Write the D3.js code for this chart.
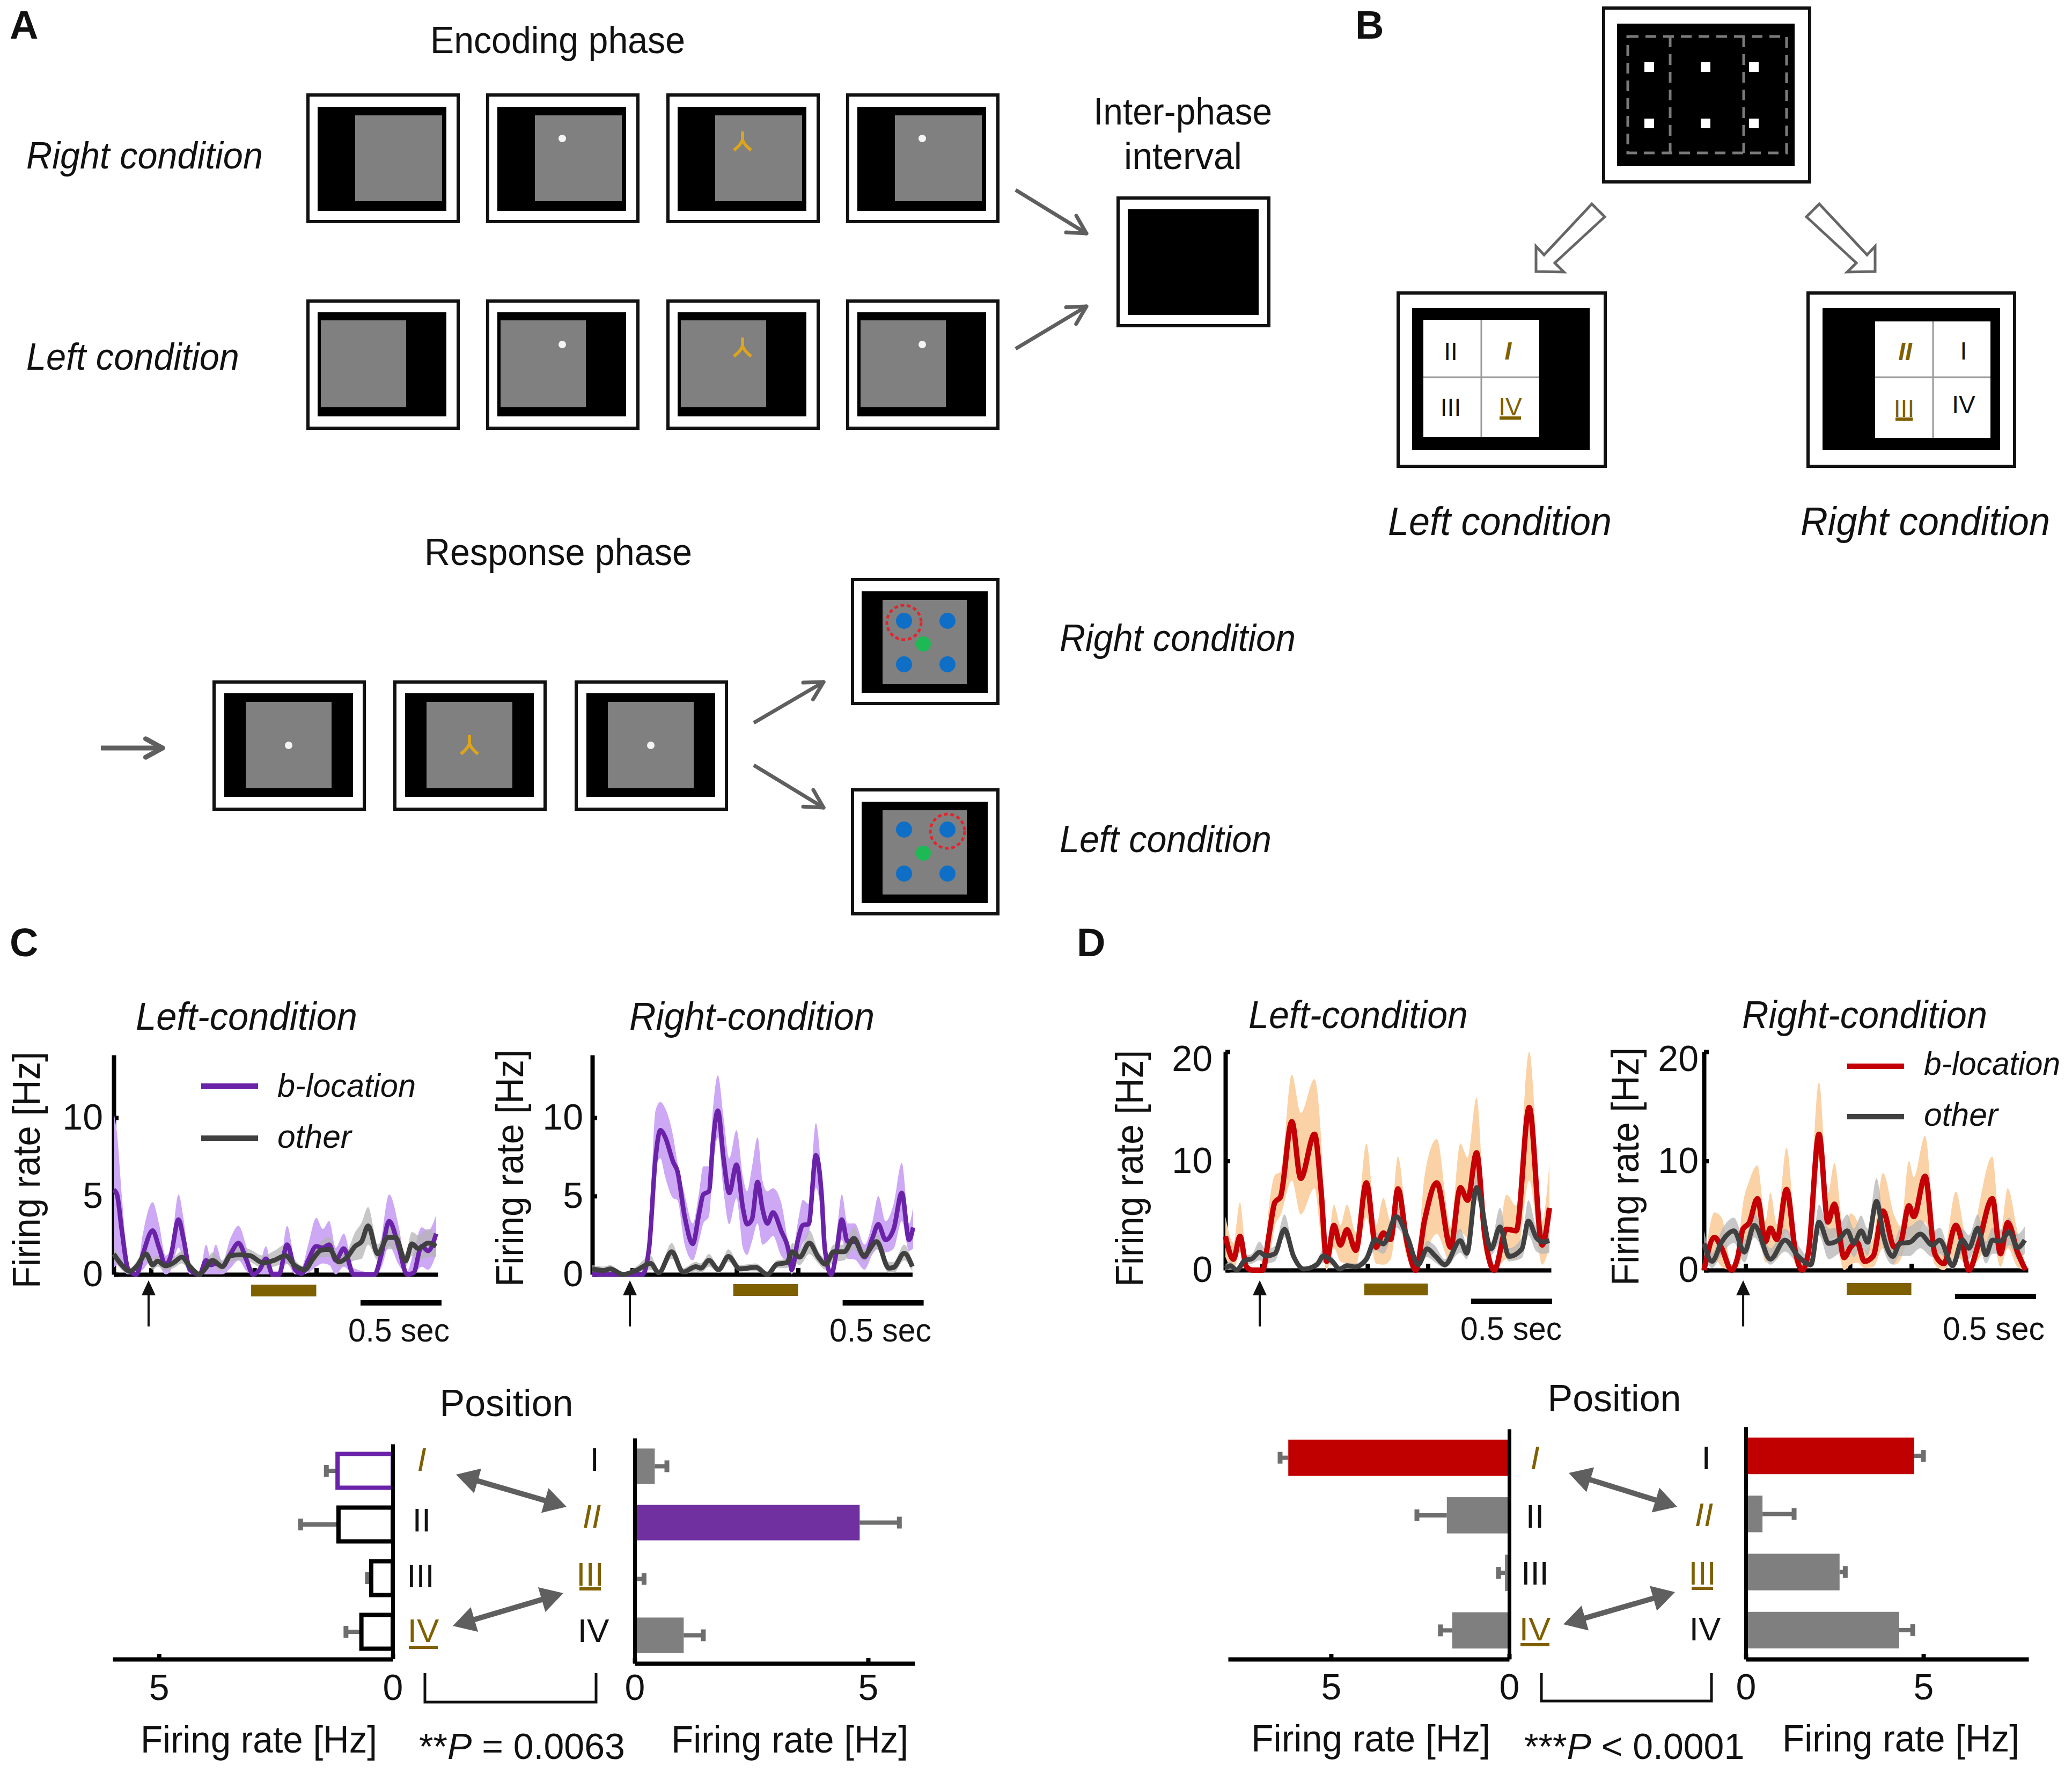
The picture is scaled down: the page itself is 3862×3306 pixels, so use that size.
<!DOCTYPE html>
<html>
<head>
<meta charset="utf-8">
<script src="https://cdn.jsdelivr.net/npm/d3@7/dist/d3.min.js"></script>
<style>
  html, body { margin: 0; background: #fff; }
  text { font-family: "Liberation Sans", Arial, sans-serif; fill: #111; }
</style>
</head>
<body>
<svg width="3862" height="3306"></svg>
<script>
// firing rate traces, one row per knot: [time s, mean Hz, band low, band high]
const cLeftB = [[0,5.4,.4,10.3],[.02,5.1,.6,9],[.05,2.8,.3,5],[.09,.3,0,.7],[.14,0,0,.1],[.18,1.3,.3,2.6],[.24,2.8,1,4.6],[.28,1.7,.6,3.2],[.32,.6,0,1.2],[.35,1.1,.2,1.6],[.40,3.5,1.7,5.1],[.43,2.3,1,3.6],[.47,.3,0,.6],[.53,0,0,.1],[.57,.9,0,1.9],[.60,.6,0,1],[.63,.7,0,1.9],[.67,.5,0,.8],[.72,1.3,.4,2.3],[.77,2,.9,3.1],[.82,.9,.2,1.7],[.86,0,0,.1],[.90,.3,0,.6],[.94,1,0,1.8],[.98,0,0,.2],[1.02,0,0,.2],[1.07,1.9,.7,3.1],[1.12,.3,0,.8],[1.16,.05,0,.5],[1.20,.9,.1,1.9],[1.25,1.8,.5,3.6],[1.29,1.7,.7,2.9],[1.33,1.9,.6,3.4],[1.37,.9,0,1.7],[1.42,1.65,.5,2.6],[1.48,0,0,.4],[1.61,0,0,.1],[1.65,1.2,.4,2.2],[1.70,3.4,1.8,5.1],[1.76,1.7,.6,3],[1.81,0,0,.2],[1.85,.1,0,1.4],[1.90,1.8,.5,3],[1.94,1.5,.3,2.8],[1.99,2.6,1.3,3.8]];
const cLeftOther = [[0,1.3,.9,1.7],[.05,.6,.3,.9],[.10,.2,0,.4],[.14,.5,.2,.8],[.20,1.3,.9,1.7],[.24,.6,.3,1],[.27,.85,.5,1.2],[.32,.55,.25,.9],[.37,.75,.4,1.1],[.42,1.1,.7,1.5],[.47,.5,.2,.8],[.53,0,0,.2],[.56,.3,.1,.6],[.61,.9,.5,1.4],[.67,.5,.2,.9],[.72,1.2,.8,1.7],[.78,1.25,.9,1.8],[.84,1.2,.8,1.6],[.92,.75,.4,1.2],[.99,.9,.5,1.5],[1.06,1.2,.7,1.9],[1.12,.55,.2,.9],[1.18,.3,.1,.5],[1.23,1,.6,1.4],[1.28,1.55,1.1,2.1],[1.33,1.6,1.1,2.4],[1.39,.8,.5,1.2],[1.44,1.1,.7,1.5],[1.49,1.8,.9,2.7],[1.53,2.1,1,3.3],[1.57,3.1,1.9,4.3],[1.63,1.3,.9,1.9],[1.69,2.35,1.6,3.2],[1.74,2.35,1.6,3],[1.80,.85,.5,1.3],[1.84,1.95,1.2,2.7],[1.88,1.65,.9,2.5],[1.94,2,1.1,2.9],[1.99,1.8,1.1,2.5]];

const cRightB = [[0,0,0,.1],[.31,0,0,.1],[.35,1.65,1,2.4],[.39,7.4,6.8,10.45],[.42,9.2,7.4,11],[.45,8.75,6.2,10.6],[.50,7.15,4.85,8.75],[.525,6.6,4.75,7.15],[.57,3.7,1.9,5.1],[.62,1.95,.9,3.25],[.66,3.95,2.2,5.3],[.685,5.1,3.25,6.9],[.72,5.3,3.7,6.9],[.745,8.5,6.8,10.6],[.775,10.45,8.75,12.7],[.81,7.4,5.3,10],[.845,5.2,3.2,7.4],[.89,7,4.85,9.2],[.93,4.2,1.65,6.2],[.955,3.2,1.25,5.3],[.985,3.5,2.1,6.8],[1.02,5.9,3.25,8.75],[1.05,4.2,1.9,6],[1.08,3.25,2.1,5.3],[1.115,3.95,2.45,5.5],[1.165,2.8,1.2,4.6],[1.215,1.3,.6,1.65],[1.23,.3,0,1],[1.27,2.25,1.2,3.4],[1.30,3.15,2,4.75],[1.335,3.2,2.6,4.5],[1.38,7.6,5.5,9.65],[1.415,5.1,3.5,6.2],[1.435,1.65,.5,3],[1.475,0,0,.3],[1.51,1.65,.8,2.8],[1.54,3.5,2.2,5.1],[1.575,2.1,1,3.25],[1.62,2.1,.95,3.25],[1.68,1.1,.3,1.9],[1.73,2.35,1.3,3.4],[1.765,3.2,1.65,5],[1.81,2.2,1.4,3.4],[1.86,2.9,1.65,4.5],[1.91,5.2,3.4,7.1],[1.955,2.2,1.5,3.25],[1.98,3,1.65,4.3]];
const cRightOther = [[0,.35,.1,.6],[.07,.25,.1,.5],[.11,.35,.1,.6],[.19,0,0,.1],[.27,.25,.1,.5],[.36,.7,.3,1.2],[.41,.1,0,.3],[.49,1.45,1,2],[.56,.15,0,.4],[.64,.5,.2,.8],[.67,.4,.1,.7],[.72,.9,.5,1.3],[.78,.3,.1,.5],[.84,1.15,.8,1.6],[.91,.35,.2,.6],[1.01,.45,.2,.7],[1.08,0,0,.2],[1.14,.65,.4,.9],[1.2,.75,.4,1],[1.235,1.45,.8,2],[1.28,1.1,.6,1.6],[1.34,2,1.3,2.8],[1.395,1.1,.7,1.5],[1.44,.65,.3,1],[1.49,1.45,.8,1.9],[1.555,1.45,.9,1.9],[1.615,2.3,1.6,3],[1.675,1.2,.8,1.6],[1.755,2.1,1.6,2.6],[1.83,.4,.1,.8],[1.86,.45,.1,.8],[1.925,1.35,.9,1.9],[1.975,.5,.2,.8]];

const dLeftB = [[0,3.1,1.2,4.9],[.05,1,0,2.5],[.09,3.1,1.6,6.2],[.13,.3,0,1],[.17,0,0,.1],[.23,0,0,.1],[.27,3.3,1,6],[.305,6.2,4,8.7],[.34,6.7,5,9],[.41,13.6,8.2,17.9],[.465,8.4,5.1,14.4],[.55,12.45,7.5,17.5],[.59,7.4,3,12.3],[.625,.8,0,1.5],[.67,4.1,2,6],[.71,2.3,.8,4.1],[.75,3.7,.6,6],[.805,1.8,.5,3.5],[.87,8,4.8,11.6],[.93,2.1,.6,4.1],[.975,3.4,.5,6.6],[1.02,2.8,1,4.5],[1.065,7.45,4.75,10.4],[1.12,2.6,1.2,4],[1.175,0,0,.3],[1.23,4.6,1.5,8.7],[1.305,8,3.3,12],[1.39,2.1,.6,4],[1.45,7.55,3.5,11.6],[1.495,6.4,3,10.3],[1.55,10.75,8,15.8],[1.60,3.3,1.5,5],[1.66,0,0,.3],[1.735,3.75,1,6.9],[1.795,3.6,1,5.9],[1.875,14.9,8.2,20],[1.955,2.3,.5,4.5],[2,5.7,2.1,9.8]];
const dLeftOther = [[0,.15,0,.5],[.03,.4,0,.8],[.07,0,0,.2],[.12,.9,.5,1.3],[.165,1.05,.6,1.5],[.21,1.65,.9,2.6],[.25,1.3,.6,1.9],[.305,1.5,.8,2.2],[.365,3.75,3,5.1],[.42,1.3,.9,1.7],[.485,.1,0,.3],[.565,.5,.2,.9],[.605,1.3,.7,1.9],[.66,.8,.4,1.2],[.705,.1,0,.3],[.75,.4,.1,.7],[.80,.3,.1,.6],[.87,1,.6,1.5],[.925,2.8,1.8,3.5],[.975,2.4,1.5,3],[1.055,4.9,3.9,5.9],[1.125,2.95,2.3,3.6],[1.19,.5,.2,.9],[1.245,1.95,1.2,2.7],[1.295,1.3,.7,2.2],[1.355,.5,.2,1],[1.45,2.7,1.6,3.8],[1.49,1.55,1,2.4],[1.55,7.55,6.4,8.7],[1.64,1.95,1.4,2.6],[1.695,3.95,2.5,5.7],[1.75,1.25,.8,2],[1.83,1.95,1.1,3],[1.87,4.5,3.2,6.4],[1.92,2.95,1.7,4],[1.96,2.6,1.5,3.7],[2,2.7,1.6,3.8]];

const dRightB = [[0,0,0,.2],[.065,3,1,5.3],[.11,2,.3,4.8],[.17,0,0,.5],[.21,1.3,.3,2.2],[.24,3.75,1.5,6],[.28,4.35,2.5,8.2],[.33,6.55,3.5,9.6],[.38,2.6,.7,4.5],[.41,3.85,1,7.1],[.45,2.8,1,4.2],[.51,7.4,3.5,11.2],[.565,1.65,.5,3],[.605,0,0,.5],[.645,1.65,.5,3.5],[.71,12.45,10,17.2],[.765,4.4,2.8,7],[.805,6.05,3,9.8],[.865,1.15,0,3.5],[.905,2.1,.5,5.2],[.945,2.55,.7,4.5],[.99,.8,.2,1.8],[1.045,1.3,.3,3],[1.105,5.4,2,8.9],[1.175,2.1,.5,5],[1.215,2.6,1,4],[1.265,5.9,3,10],[1.295,4.9,2.5,8.5],[1.365,8.6,4.4,12.3],[1.425,1.5,.5,3.5],[1.48,.6,0,1.8],[1.555,4.1,1.3,7.2],[1.595,2.45,.8,4.5],[1.635,0,0,.5],[1.695,2.45,1,5.7],[1.78,6.55,3,10.4],[1.83,1.5,.3,3.5],[1.875,4.35,2,7.5],[1.935,1.65,.3,3.5],[1.985,0,0,.5]];
const dRightOther = [[0,2.45,1.3,3.6],[.05,.8,.2,1.6],[.11,2.6,1.5,3.7],[.185,3.6,2.5,4.8],[.25,1.65,.7,2.8],[.31,4.1,3,5.2],[.41,1,.5,2],[.5,2.75,1.7,3.8],[.58,1.3,.6,2.3],[.66,.5,.2,1],[.71,4.4,3.2,6],[.77,2.45,1,3.8],[.83,2.75,1.5,4],[.885,3.6,2,5.1],[.925,2.45,1.2,3.8],[.97,3.6,2.2,5],[1.01,2.55,1.3,3.8],[1.065,6.3,5.2,8.4],[1.11,3,1.8,4.5],[1.165,1.25,.5,2.3],[1.21,2.45,1.3,3.8],[1.27,2.55,1.3,4],[1.335,3.3,2,4.6],[1.41,2.3,1.2,3.5],[1.455,2.75,1.5,3.9],[1.535,.4,.1,1],[1.595,2.75,1.5,3.8],[1.635,2,1,3.2],[1.69,3.85,2.6,5.1],[1.74,1.4,.6,2.6],[1.78,2.75,1.5,3.9],[1.83,2.65,1.5,3.7],[1.885,3.5,2.3,4.8],[1.935,2.05,1,3.3],[1.98,2.75,1.5,4]];

// bar charts
const positions = ["I", "II", "III", "IV"];
const cLeftBars = [1.18, 1.16, 0.46, 0.67];
const cLeftErr = [1.42, 1.97, 0.54, 1.0];
const cRightBars = [0.43, 4.82, 0.05, 1.05];
const cRightErr = [0.69, 5.67, 0.2, 1.47];
const dLeftBars = [6.2, 1.75, 0.12, 1.6];
const dLeftErr = [6.43, 2.59, 0.3, 1.93];
const dRightBars = [4.74, 0.47, 2.64, 4.32];
const dRightErr = [5.0, 1.36, 2.8, 4.7];

const svg = d3.select("svg");
const BROWN = "#7f6000";
const GOLD = "#dca51c";
const DARK = "#404040";
const ARROW = "#5f5f5f";

function label(txt, x, y, size, o = {}) {
  const t = svg.append("text")
    .attr("x", x).attr("y", y)
    .attr("font-size", size)
    .attr("font-style", o.italic ? "italic" : "normal")
    .attr("font-weight", o.bold ? "bold" : "normal")
    .attr("text-anchor", o.anchor || "start")
    .text(txt);
  if (o.fill) t.style("fill", o.fill);
  if (o.width) t.attr("textLength", o.width).attr("lengthAdjust", "spacingAndGlyphs");
  if (o.rotate) t.attr("transform", `rotate(-90 ${x} ${y})`);
  return t;
}

function rect(x0, y0, x1, y1, fill, extra = {}) {
  const r = svg.append("rect")
    .attr("x", x0).attr("y", y0)
    .attr("width", x1 - x0).attr("height", y1 - y0)
    .attr("fill", fill);
  Object.entries(extra).forEach(([k, v]) => r.attr(k, v));
  return r;
}

function line(x1, y1, x2, y2, color, w, extra = {}) {
  const l = svg.append("line")
    .attr("x1", x1).attr("y1", y1).attr("x2", x2).attr("y2", y2)
    .attr("stroke", color).attr("stroke-width", w);
  Object.entries(extra).forEach(([k, v]) => l.attr(k, v));
  return l;
}

// outer white screen with the black display inside
function screen(x0, y0, x1, y1, bx0, by0, bx1, by1) {
  rect(x0, y0, x1, y1, "#fff", { stroke: "#111", "stroke-width": 6 });
  rect(bx0, by0, bx1, by1, "#000");
}

function whiteDot(x, y) {
  svg.append("circle").attr("cx", x).attr("cy", y).attr("r", 7).attr("fill", "#f4f4f4");
}

function fork(x, y) {
  svg.append("path")
    .attr("d", `M${x},${y - 18}L${x},${y - 2}Q${x - 4},${y + 8} ${x - 16},${y + 17}M${x},${y - 2}Q${x + 4},${y + 8} ${x + 16},${y + 17}`)
    .attr("fill", "none").attr("stroke", GOLD).attr("stroke-width", 6);
}

// plain arrow with an open head
function arrow(x1, y1, x2, y2, w = 7, head = 38) {
  const a = Math.atan2(y2 - y1, x2 - x1);
  line(x1, y1, x2, y2, ARROW, w);
  [-0.5, 0.5].forEach(d => {
    line(x2, y2, x2 - head * Math.cos(a + d), y2 - head * Math.sin(a + d), ARROW, w, { "stroke-linecap": "round" });
  });
}

// thick double arrow with solid heads
function doubleArrow(x1, y1, x2, y2) {
  const a = Math.atan2(y2 - y1, x2 - x1);
  const h = 42, s = 24;
  const ux = Math.cos(a), uy = Math.sin(a);
  line(x1 + ux * 30, y1 + uy * 30, x2 - ux * 30, y2 - uy * 30, ARROW, 10);
  [[x1, y1, 1], [x2, y2, -1]].forEach(([x, y, d]) => {
    const bx = x + d * ux * h, by = y + d * uy * h;
    svg.append("polygon")
      .attr("points", [[x, y], [bx - uy * s, by + ux * s], [bx + uy * s, by - ux * s]].join(" "))
      .attr("fill", ARROW);
  });
}

function roman(txt, x, y, size, o = {}) {
  const brown = o.italic || o.under;
  label(txt, x, y + size * 0.36, size, {
    anchor: "middle", italic: o.italic, bold: o.bold,
    fill: brown ? BROWN : "#111"
  });
  if (o.under) line(x - o.under, o.uy, x + o.under, o.uy, BROWN, 6);
}

/* ---------- panel letters ---------- */
label("A", 18, 72, 74, { bold: true });
label("B", 2526, 72, 74, { bold: true });
label("C", 18, 1782, 74, { bold: true });
label("D", 2007, 1782, 74, { bold: true });

/* ---------- panel A ---------- */
label("Encoding phase", 802, 99, 70, { width: 475 });
label("Right condition", 49, 314, 70, { italic: true, width: 441 });
label("Left condition", 49, 689, 70, { italic: true, width: 397 });
label("Inter-phase", 2038, 232, 70, { width: 333 });
label("interval", 2095, 315, 70, { width: 220 });

[574, 909, 1245, 1580].forEach((x, i) => {
  screen(x, 177, x + 280, 413, x + 18, 199, x + 258, 393);
  rect(x + 88, 215, x + 250, 375, "#808080");
  screen(x, 561, x + 280, 798, x + 18, 582, x + 258, 776);
  rect(x + 24, 597, x + 183, 759, "#808080");
  if (i === 1 || i === 3) { whiteDot(x + 139, 258); whiteDot(x + 139, 642); }
  if (i === 2) { fork(x + 139, 263); fork(x + 139, 647); }
});

screen(2084, 369, 2365, 607, 2102, 390, 2346, 587);
arrow(1893, 354, 2025, 435);
arrow(1893, 650, 2025, 571);

label("Response phase", 791, 1053, 70, { width: 499 });
arrow(188, 1394, 303, 1394, 9, 36);
[399, 736, 1074].forEach((x, i) => {
  screen(x, 1271, x + 280, 1508, x + 19, 1292, x + 259, 1485);
  rect(x + 59, 1308, x + 219, 1469, "#808080");
  if (i === 1) fork(x + 139, 1388); else whiteDot(x + 139, 1389);
});
arrow(1405, 1347, 1535, 1271);
arrow(1405, 1426, 1535, 1505);

[[1080, 1157, 1238, 1200, 1685], [1472, 1546, 1628, 1590, 1766]].forEach(([top, d0, d1, g, ring]) => {
  screen(1589, top, 1860, top + 231, 1606, top + 22, 1841, top + 211);
  rect(1645, top + 38, 1802, top + 195, "#808080");
  [1685, 1766].forEach(x => [d0, d1].forEach(y => {
    svg.append("circle").attr("cx", x).attr("cy", y).attr("r", 15).attr("fill", "#0f6fc6");
  }));
  svg.append("circle").attr("cx", 1721).attr("cy", g).attr("r", 14).attr("fill", "#1db954");
  svg.append("circle").attr("cx", ring).attr("cy", d0 + 3).attr("r", 32)
    .attr("fill", "none").attr("stroke", "#e0262c").attr("stroke-width", 5).attr("stroke-dasharray", "7 5");
});
label("Right condition", 1975, 1213, 70, { italic: true, width: 440 });
label("Left condition", 1975, 1588, 70, { italic: true, width: 395 });

/* ---------- panel B ---------- */
screen(2989, 15, 3373, 339, 3014, 44, 3345, 309);
const dash = { "stroke-dasharray": "20 13" };
rect(3034, 68, 3330, 285, "none", { stroke: "#7a7a7a", "stroke-width": 5, "stroke-dasharray": "20 13" });
line(3113, 68, 3113, 285, "#7a7a7a", 5, dash);
line(3250, 68, 3250, 285, "#7a7a7a", 5, dash);
[3074, 3179, 3269].forEach(x => [125, 230].forEach(y => {
  rect(x - 9, y - 9, x + 9, y + 9, "#fff");
}));

const blockArrow = [[2967, 380], [2991, 404], [2898, 490], [2915, 507], [2863, 506], [2863, 459], [2878, 475]];
[d => d, d => [6358 - d[0], d[1]]].forEach(f => {
  svg.append("polygon")
    .attr("points", blockArrow.map(f).join(" "))
    .attr("fill", "#fff").attr("stroke", "#666").attr("stroke-width", 5);
});

screen(2606, 546, 2992, 869, 2632, 574, 2963, 839);
rect(2653, 596, 2869, 814, "#fff");
line(2761, 596, 2761, 814, "#999", 3);
line(2653, 703, 2869, 703, "#999", 3);
roman("II", 2704, 654, 46);
roman("I", 2811, 653, 46, { italic: true, bold: true });
roman("III", 2704, 758, 46);
roman("IV", 2815, 757, 46, { under: 20, uy: 779 });

screen(3370, 546, 3755, 869, 3397, 574, 3728, 839);
rect(3495, 599, 3710, 816, "#fff");
line(3603, 599, 3603, 816, "#999", 3);
line(3495, 703, 3710, 703, "#999", 3);
roman("II", 3551, 654, 46, { italic: true, bold: true });
roman("I", 3660, 653, 46);
roman("III", 3549, 760, 46, { under: 16, uy: 781 });
roman("IV", 3660, 753, 46);

label("Left condition", 2587, 997, 74, { italic: true, width: 417 });
label("Right condition", 3356, 997, 74, { italic: true, width: 465 });

/* ---------- firing rate panels ---------- */
const PX_PER_SEC = 302;
const tracePanels = [
  { b: cLeftB, other: cLeftOther, x0: 212, T: 2, y0: 2375, yTop: 1966, yMax: 14, ticks: [0, 5, 10],
    line: "#6a23a8", band: "#cda8f5", pad: 20, stim: [0.848, 1.25], cue: 0.215, scale: 1.523, scaleY: 2428,
    title: "Left-condition", tx: 253, tw: 413, ty: 1919, yl: 74, yw: 441, yb: 2401, sec: 649, secW: 189, secY: 2500, barY: 2394 },
  { b: cRightB, other: cRightOther, x0: 1104, T: 1.975, y0: 2375, yTop: 1966, yMax: 14, ticks: [0, 5, 10],
    line: "#6a23a8", band: "#cda8f5", pad: 17, stim: [0.87, 1.27], cue: 0.232, scale: 1.545, scaleY: 2428,
    title: "Right-condition", tx: 1173, tw: 457, ty: 1919, yl: 975, yw: 442, yb: 2398, sec: 1546, secW: 190, secY: 2500, barY: 2393 },
  { b: dLeftB, other: dLeftOther, x0: 2284, T: 2.01, y0: 2367, yTop: 1960, yMax: 20, ticks: [0, 10, 20],
    line: "#c40006", band: "#fbd2a6", pad: 24, stim: [0.857, 1.25], cue: 0.212, scale: 1.516, scaleY: 2425,
    title: "Left-condition", tx: 2327, tw: 409, ty: 1916, yl: 2130, yw: 441, yb: 2398, sec: 2722, secW: 189, secY: 2497, barY: 2392 },
  { b: dRightB, other: dRightOther, x0: 3176, T: 2, y0: 2367, yTop: 1960, yMax: 20, ticks: [0, 10, 20],
    line: "#c40006", band: "#fbd2a6", pad: 10, stim: [0.881, 1.28], cue: 0.242, scale: 1.55, scaleY: 2416,
    title: "Right-condition", tx: 3247, tw: 457, ty: 1916, yl: 3054, yw: 444, yb: 2396, sec: 3621, secW: 190, secY: 2497, barY: 2391 }
];

tracePanels.forEach(p => {
  const x = d3.scaleLinear().domain([0, p.T]).range([p.x0, p.x0 + PX_PER_SEC * p.T]);
  const y = d3.scaleLinear().domain([0, p.yMax]).range([p.y0, p.yTop]);

  const yAxis = svg.append("g").attr("transform", `translate(${p.x0},0)`)
    .call(d3.axisLeft(y).tickValues(p.ticks).tickSizeInner(-9).tickSizeOuter(0).tickPadding(p.pad));
  const xAxis = svg.append("g").attr("transform", `translate(0,${p.y0})`)
    .call(d3.axisTop(x).tickValues([p.stim[0] + 0.02, p.stim[1], p.cue + 0.015]).tickFormat("").tickSizeInner(12).tickSizeOuter(0));
  [yAxis, xAxis].forEach(a => {
    a.selectAll("path,line").attr("stroke", "#000").attr("stroke-width", 8);
    a.selectAll("text").attr("font-size", 68);
  });
  // the top label of the 20 Hz axes sits a little below its tick
  yAxis.selectAll("text").filter(d => d === 20).attr("dy", "0.52em");

  const area = d3.area().x(d => x(d[0])).y0(d => y(d[2])).y1(d => y(d[3])).curve(d3.curveMonotoneX);
  const path = d3.line().x(d => x(d[0])).y(d => y(d[1])).curve(d3.curveMonotoneX);

  svg.append("path").attr("d", area(p.b)).attr("fill", p.band);
  svg.append("path").attr("d", area(p.other)).attr("fill", "#b4b4b4").attr("fill-opacity", 0.75);
  svg.append("path").attr("d", path(p.b)).attr("fill", "none").attr("stroke", p.line)
    .attr("stroke-width", p.yMax === 20 ? 10 : 8.5).attr("stroke-linejoin", "round");
  svg.append("path").attr("d", path(p.other)).attr("fill", "none").attr("stroke", DARK)
    .attr("stroke-width", 9).attr("stroke-linejoin", "round");

  label(p.title, p.tx, p.ty, 72, { italic: true, width: p.tw });
  label("Firing rate [Hz]", p.yl, p.yb, 72, { rotate: true, width: p.yw });

  rect(x(p.stim[0]), p.barY, x(p.stim[1]), p.barY + 22, BROWN);
  const ax = x(p.cue);
  line(ax, 2472, ax, 2400, "#111", 4);
  svg.append("polygon").attr("points", [[ax, 2386], [ax - 13, 2414], [ax + 13, 2414]].join(" ")).attr("fill", "#111");
  line(x(p.scale), p.scaleY, x(p.scale + 0.5), p.scaleY, "#000", 10);
  label("0.5 sec", p.sec, p.secY, 62, { width: p.secW });
});

// legends
line(375, 2024, 481, 2024, "#6a23a8", 10);
line(375, 2121, 481, 2121, DARK, 10);
label("b-location", 517, 2044, 62, { italic: true, width: 258 });
label("other", 517, 2139, 62, { italic: true, width: 138 });
line(3443, 1987, 3549, 1987, "#c40006", 10);
line(3443, 2081, 3549, 2081, DARK, 10);
label("b-location", 3586, 2003, 62, { italic: true, width: 254 });
label("other", 3586, 2098, 62, { italic: true, width: 138 });

/* ---------- bar panels ---------- */
const barPanels = [
  { v: cLeftBars, e: cLeftErr, xr: [732, 210], max: 5.99, yr: [2691, 3091], ay: 3092, pad: 28, hollow: true,
    fill: ["#fff", "#fff", "#fff", "#fff"], stroke: ["#6a23a8", "#000", "#000", "#000"] },
  { v: cRightBars, e: cRightErr, xr: [1183, 1705], max: 6, yr: [2680, 3100], ay: 3100, pad: 20, hollow: false,
    fill: ["#7f7f7f", "#7030a0", "#7f7f7f", "#7f7f7f"] },
  { v: dLeftBars, e: dLeftErr, xr: [2813, 2289], max: 7.89, yr: [2663, 3092], ay: 3092, pad: 27, hollow: false,
    fill: ["#c00000", "#7f7f7f", "#7f7f7f", "#7f7f7f"] },
  { v: dRightBars, e: dRightErr, xr: [3254, 3781], max: 7.96, yr: [2659, 3092], ay: 3092, pad: 27, hollow: false,
    fill: ["#c00000", "#7f7f7f", "#7f7f7f", "#7f7f7f"] }
];

barPanels.forEach(p => {
  const x = d3.scaleLinear().domain([0, p.max]).range(p.xr);
  const y = d3.scaleBand().domain(positions).range(p.yr).paddingInner(0.37).paddingOuter(0.185);
  const g = svg.append("g");
  const idx = d3.range(positions.length);

  g.selectAll(".err").data(idx).join("line")
    .attr("x1", i => x(p.v[i])).attr("x2", i => x(p.e[i]))
    .attr("y1", i => y(positions[i]) + y.bandwidth() / 2).attr("y2", i => y(positions[i]) + y.bandwidth() / 2)
    .attr("stroke", "#6e6e6e").attr("stroke-width", 8);
  g.selectAll(".cap").data(idx).join("line")
    .attr("x1", i => x(p.e[i])).attr("x2", i => x(p.e[i]))
    .attr("y1", i => y(positions[i]) + y.bandwidth() / 2 - 11).attr("y2", i => y(positions[i]) + y.bandwidth() / 2 + 11)
    .attr("stroke", "#6e6e6e").attr("stroke-width", 9);
  const bars = g.selectAll(".bar").data(idx).join("rect")
    .attr("x", i => Math.min(x(0), x(p.v[i])))
    .attr("width", i => Math.abs(x(p.v[i]) - x(0)))
    .attr("y", i => y(positions[i])).attr("height", y.bandwidth())
    .attr("fill", i => p.fill[i]);
  if (p.hollow) bars.attr("stroke", i => p.stroke[i]).attr("stroke-width", 8);

  const yAxis = d3.axisRight(y).tickValues([]).tickSize(0);
  const xAxis = d3.axisBottom(x).tickValues([0, 5]).tickFormat(d3.format("d"))
    .tickSizeInner(-10).tickSizeOuter(0).tickPadding(p.pad);
  const ya = g.append("g").attr("transform", `translate(${p.xr[0]},0)`).call(yAxis);
  const xa = g.append("g").attr("transform", `translate(0,${p.ay})`).call(xAxis);
  ya.selectAll("path").attr("stroke", "#000").attr("stroke-width", 7);
  xa.selectAll("path,line").attr("stroke", "#000").attr("stroke-width", 8);
  xa.selectAll("text").attr("font-size", 68);
});

// position labels, arrows, brackets
label("Position", 944, 2639, 70, { anchor: "middle" });
roman("I", 786, 2719, 62, { italic: true });
roman("II", 786, 2832, 62);
roman("III", 784, 2936, 62);
roman("IV", 789, 3038, 62, { under: 27, uy: 3070 });
roman("I", 1108, 2719, 62);
roman("II", 1103, 2825, 62, { italic: true });
roman("III", 1100, 2933, 62, { under: 20, uy: 2961 });
roman("IV", 1106, 3038, 62);
doubleArrow(850, 2748, 1056, 2808);
doubleArrow(844, 3030, 1050, 2969);
svg.append("path").attr("d", "M792,3118V3172H1111V3118").attr("fill", "none").attr("stroke", "#111").attr("stroke-width", 5);
label("Firing rate [Hz]", 262, 3266, 70, { width: 441 });
label("Firing rate [Hz]", 1251, 3266, 70, { width: 442 });
const pC = label("**", 781, 3278, 68);
pC.append("tspan").attr("font-style", "italic").text("P");
pC.append("tspan").text(" = 0.0063");

label("Position", 3009, 2630, 70, { anchor: "middle" });
roman("I", 2861, 2716, 62, { italic: true });
roman("II", 2861, 2825, 62);
roman("III", 2861, 2931, 62);
roman("IV", 2861, 3035, 62, { under: 27, uy: 3065 });
roman("I", 3180, 2716, 62);
roman("II", 3176, 2822, 62, { italic: true });
roman("III", 3173, 2931, 62, { under: 20, uy: 2960 });
roman("IV", 3178, 3035, 62);
doubleArrow(2924, 2745, 3126, 2808);
doubleArrow(2914, 3027, 3122, 2967);
svg.append("path").attr("d", "M2873,3118V3170H3190V3118").attr("fill", "none").attr("stroke", "#111").attr("stroke-width", 5);
label("Firing rate [Hz]", 2332, 3264, 70, { width: 446 });
label("Firing rate [Hz]", 3322, 3264, 70, { width: 442 });
const pD = label("***", 2841, 3278, 68);
pD.append("tspan").attr("font-style", "italic").text("P");
pD.append("tspan").text(" < 0.0001");
</script>
</body>
</html>
